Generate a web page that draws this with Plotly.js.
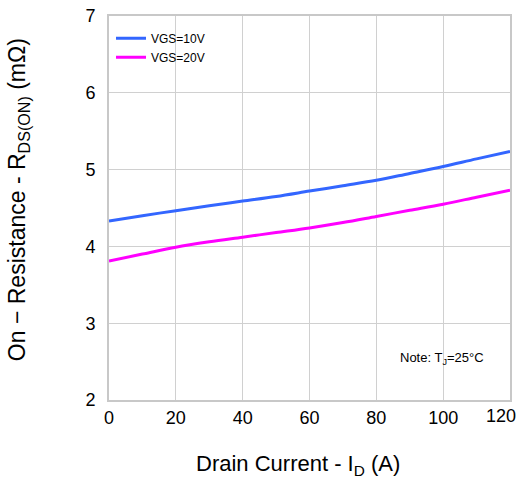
<!DOCTYPE html>
<html>
<head>
<meta charset="utf-8">
<script src="https://cdn.plot.ly/plotly-3.0.1.min.js"></script>
<style>
  html, body { margin: 0; padding: 0; background: #fff; }
  #chart { width: 520px; height: 479px; }
</style>
</head>
<body>
<div id="chart"></div>
<script>
// Drain current (A)
const drainCurrent = [0, 10, 20, 30, 40, 50, 60, 70, 80, 90, 100, 110, 120];
// On-resistance (mOhm) at VGS = 10 V
const rdsVgs10 = [4.33, 4.40, 4.465, 4.53, 4.59, 4.65, 4.72, 4.79, 4.86, 4.95, 5.04, 5.14, 5.235];
// On-resistance (mOhm) at VGS = 20 V
const rdsVgs20 = [3.81, 3.90, 3.99, 4.06, 4.12, 4.18, 4.24, 4.31, 4.39, 4.47, 4.55, 4.64, 4.73];

const xTicks = [0, 20, 40, 60, 80, 100, 120];
// the last label is drawn separately, right-aligned so it stays inside the figure
const xTickText = ["0", "20", "40", "60", "80", "100", ""];
const xLastTick = 120;
const yTicks = [2, 3, 4, 5, 6, 7];

const font = "Liberation Sans, Arial, sans-serif";

const traces = [
  {
    x: drainCurrent, y: rdsVgs10, name: "VGS=10V", type: "scatter", mode: "lines",
    line: { color: "#3366ff", width: 3, shape: "spline" }
  },
  {
    x: drainCurrent, y: rdsVgs20, name: "VGS=20V", type: "scatter", mode: "lines",
    line: { color: "#ff00ff", width: 3, shape: "spline" }
  }
];

const layout = {
  width: 520, height: 479,
  margin: { l: 109, r: 10, t: 16, b: 79 },
  paper_bgcolor: "#fff", plot_bgcolor: "#fff",
  font: { family: font, color: "#000" },
  showlegend: true,
  legend: {
    x: 0.005, y: 0.98, xanchor: "left", yanchor: "top",
    bgcolor: "rgba(0,0,0,0)", font: { size: 12, family: font },
    itemwidth: 30, tracegroupgap: 0
  },
  xaxis: {
    range: [0, 120], tickvals: xTicks, ticktext: xTickText, ticks: "", tickfont: { size: 18 },
    showgrid: true, gridcolor: "#d0d0d0", gridwidth: 1,
    showline: true, linecolor: "#c8c8c8", linewidth: 2, mirror: true,
    zeroline: false, fixedrange: true
  },
  yaxis: {
    range: [2, 7], tickvals: yTicks, ticks: "", tickfont: { size: 18 },
    showgrid: true, gridcolor: "#d0d0d0", gridwidth: 1,
    showline: true, linecolor: "#c8c8c8", linewidth: 2, mirror: true,
    zeroline: false, fixedrange: true, ticklabelstandoff: 8
  },
  annotations: [
    {
      xref: "x", yref: "paper", x: xLastTick, y: -0.041, xanchor: "right", yanchor: "middle",
      xshift: 8, text: String(xLastTick), showarrow: false, font: { size: 18, family: font }
    },
    {
      xref: "paper", yref: "paper", x: 0.471, y: -0.169, xanchor: "center", yanchor: "middle",
      text: "Drain Current - I<sub>D</sub> (A)", showarrow: false, font: { size: 22, family: font }
    },
    {
      xref: "paper", yref: "paper", x: -0.227, y: 0.523, xanchor: "center", yanchor: "middle",
      textangle: -90,
      text: "On \u2212 Resistance - R<sub>DS(ON)</sub> (m\u03a9)", showarrow: false, font: { size: 23, family: font }
    },
    {
      xref: "paper", yref: "paper", x: 0.94, y: 0.108, xanchor: "right", yanchor: "middle",
      text: "Note: T<sub>J</sub>=25\u00b0C", showarrow: false, font: { size: 13, family: font }
    }
  ]
};

Plotly.newPlot("chart", traces, layout, { displayModeBar: false, staticPlot: true });
</script>
</body>
</html>
